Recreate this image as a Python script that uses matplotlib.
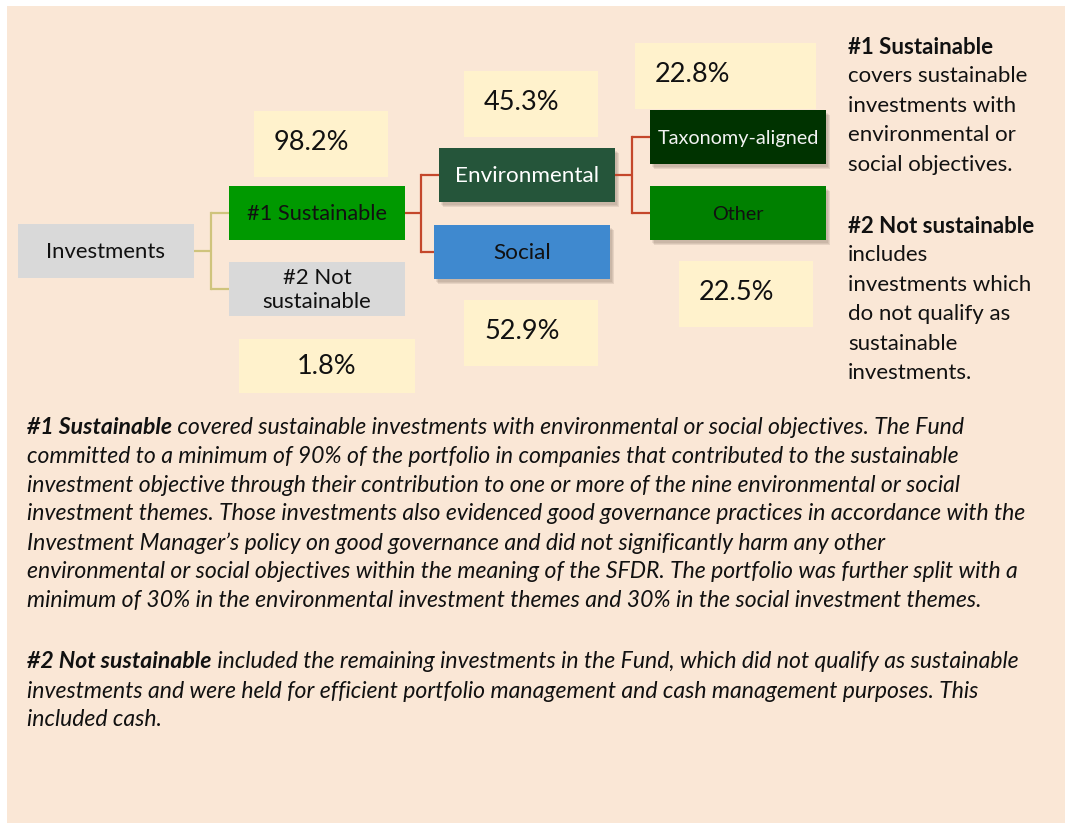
import matplotlib
matplotlib.use("Agg")
import matplotlib.pyplot as plt
from matplotlib.patches import Rectangle

# ---------------- data ----------------
node_labels = ["Investments", "#1 Sustainable", "#2 Not\nsustainable",
               "Environmental", "Social", "Taxonomy-aligned", "Other"]
share_labels = ["#1 Sustainable", "#2 Not sustainable", "Environmental",
                "Social", "Taxonomy-aligned", "Other"]
share_values = [98.2, 1.8, 45.3, 52.9, 22.8, 22.5]

side_head_1 = "#1 Sustainable"
side_body_1 = ["covers sustainable", "investments with",
               "environmental or", "social objectives."]
side_head_2 = "#2 Not sustainable"
side_body_2 = ["includes", "investments which", "do not qualify as",
               "sustainable", "investments."]

para1_head = "#1 Sustainable"
para1_lines = [
    " covered sustainable investments with environmental or social objectives. The Fund",
    "committed to a minimum of 90% of the portfolio in companies that contributed to the sustainable",
    "investment objective through their contribution to one or more of the nine environmental or social",
    "investment themes. Those investments also evidenced good governance practices in accordance with the",
    "Investment Manager\u2019s policy on good governance and did not significantly harm any other",
    "environmental or social objectives within the meaning of the SFDR. The portfolio was further split with a",
    "minimum of 30% in the environmental investment themes and 30% in the social investment themes.",
]
para2_head = "#2 Not sustainable"
para2_lines = [
    " included the remaining investments in the Fund, which did not qualify as sustainable",
    "investments and were held for efficient portfolio management and cash management purposes. This",
    "included cash.",
]

# ---------------- layout (pixels) ----------------
W, H = 1065, 823
FONT = "Lato"
plt.rcParams["font.family"] = [FONT, "DejaVu Sans"]

fig = plt.figure(figsize=(W / 100, H / 100), dpi=100, facecolor="white")
ax = fig.add_axes([0, 0, 1, 1])
ax.set_xlim(0, W)
ax.set_ylim(H, 0)
ax.axis("off")

ax.add_patch(Rectangle((7, 6), W - 7, H - 6, facecolor="#FAE7D6", edgecolor="none", zorder=0))

# node boxes: (x0, y0, x1, y1), facecolor, textcolor, fontsize, shadow
node_geom = [
    ((18, 224, 194, 278), "#D9D9D9", "#111111", 15.9, False),
    ((229, 186, 405, 240), "#009900", "#111111", 15.7, False),
    ((229, 262, 405, 316), "#D9D9D9", "#111111", 15.9, False),
    ((439, 148, 615, 202), "#25553A", "#FFFFFF", 16.2, True),
    ((434, 225, 610, 279), "#3F89CF", "#111111", 16.2, True),
    ((650, 110, 826, 164), "#003300", "#F2F2F2", 14.3, True),
    ((650, 186, 826, 240), "#008000", "#111111", 14.3, True),
]
# share boxes: (x0, y0, x1, y1), align
share_geom = [
    ((254, 111, 388, 177), "left"),
    ((239, 339, 415, 393), "center"),
    ((464, 71, 598, 137), "left"),
    ((464, 300, 598, 366), "left"),
    ((635, 43, 816, 109), "left"),
    ((679, 261, 813, 327), "left"),
]

for label, ((x0, y0, x1, y1), fc, tc, fs, sh) in zip(node_labels, node_geom):
    if sh:
        for k, a in enumerate([0.10, 0.10, 0.12]):
            d = 2 + k
            ax.add_patch(Rectangle((x0 + d, y0 + d + 1), x1 - x0, y1 - y0,
                                   facecolor="#5A4A3A", alpha=a, edgecolor="none", zorder=1))
    ax.add_patch(Rectangle((x0, y0), x1 - x0, y1 - y0, facecolor=fc, edgecolor="none", zorder=2))
    ax.text((x0 + x1) / 2, (y0 + y1) / 2 + 1, label, color=tc, fontsize=fs,
            ha="center", va="center", linespacing=1.3, zorder=3)

for v, ((x0, y0, x1, y1), al) in zip(share_values, share_geom):
    ax.add_patch(Rectangle((x0, y0), x1 - x0, y1 - y0, facecolor="#FFF2CC", edgecolor="none", zorder=2))
    tx = x0 + 20 if al == "left" else (x0 + x1) / 2
    ty = (y0 + y1) / 2 - 2 if al == "left" else (y0 + y1) / 2
    ax.text(tx, ty, f"{v:.1f}%", color="#111111", fontsize=19.5,
            ha=al, va="center", zorder=3)

# connectors
def elbow(parent, kids, color, xm):
    px1 = parent[2]
    py = (parent[1] + parent[3]) / 2
    ax.plot([px1, xm], [py, py], color=color, lw=1.6, zorder=1.5, solid_capstyle="butt")
    ys = [(k[1] + k[3]) / 2 for k in kids]
    ax.plot([xm, xm], [min(ys), max(ys)], color=color, lw=1.6, zorder=1.5)
    for k, y in zip(kids, ys):
        ax.plot([xm, k[0]], [y, y], color=color, lw=1.6, zorder=1.5, solid_capstyle="butt")

g = [n[0] for n in node_geom]
elbow(g[0], [g[1], g[2]], "#CFC47C", 211)
elbow(g[1], [g[3], g[4]], "#C4472B", 421)
elbow(g[3], [g[5], g[6]], "#C4472B", 632)

# side text
sx = 848
sy = 47
step = 29.4
sfs = 16
ax.text(sx, sy, side_head_1, fontsize=sfs, fontweight="bold", color="#111111", va="center")
for i, s in enumerate(side_body_1):
    ax.text(sx, sy + step * (i + 1), s, fontsize=sfs, color="#111111", va="center")
sy2 = 226
ax.text(sx, sy2, side_head_2, fontsize=sfs, fontweight="bold", color="#111111", va="center")
for i, s in enumerate(side_body_2):
    ax.text(sx, sy2 + step * (i + 1), s, fontsize=sfs, color="#111111", va="center")

# paragraphs
fig.canvas.draw()
renderer = fig.canvas.get_renderer()

def width_px(t):
    return t.get_window_extent(renderer=renderer).width

probe = ax.text(0, 0, para1_lines[3], fontsize=14, style="italic")
target = 1005.0
pfs = 14 * target / width_px(probe)
probe.remove()

def para(head, lines, y0):
    px = 27
    h = ax.text(px, y0, head, fontsize=pfs, style="italic", fontweight="bold",
                color="#111111", va="center")
    fig.canvas.draw()
    hw = width_px(h)
    for i, s in enumerate(lines):
        x = px + hw if i == 0 else px
        ax.text(x, y0 + 29 * i, s, fontsize=pfs, style="italic", color="#111111", va="center")

para(para1_head, para1_lines, 427)
para(para2_head, para2_lines, 662)

fig.savefig("out.png", dpi=100, facecolor="white")
